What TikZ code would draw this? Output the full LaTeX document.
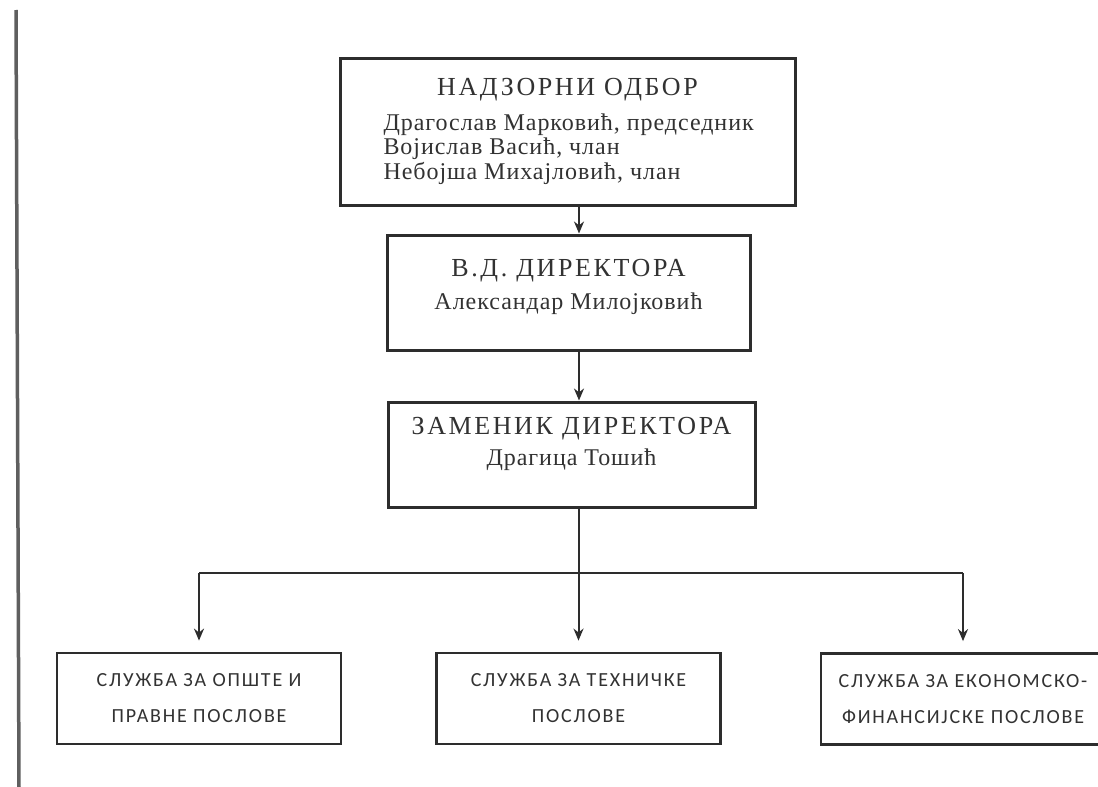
\documentclass[tikz,border=0pt]{standalone}
\usepackage{fontspec}
\setmainfont{Liberation Serif}
\setsansfont{Carlito}
\usepackage{tikz}
\usetikzlibrary{arrows.meta,positioning}
\definecolor{boxgray}{RGB}{45,45,45}
\definecolor{txtgray}{RGB}{50,50,50}
\definecolor{margray}{RGB}{95,95,95}
\newcommand{\headfont}{\fontsize{26}{30}\selectfont\addfontfeature{LetterSpace=10}}
\newcommand{\namefont}{\fontsize{24}{24.5}\selectfont\addfontfeature{LetterSpace=4}}
\newcommand{\servicefont}{\sffamily\fontsize{20}{36}\selectfont\addfontfeature{LetterSpace=9}}
\tikzstyle{arrow} = [line width=2pt,-{Stealth[length=12pt,width=10pt]},color=boxgray]
\tikzstyle{busline} = [line width=2pt,color=boxgray]
\tikzstyle{upperbox} = [rectangle, draw=boxgray, line width=3pt, text=txtgray, align=center, font=\namefont]
\tikzstyle{servicebox} = [rectangle, draw=boxgray, line width=2.8pt, minimum width=284pt, minimum height=91pt, text=txtgray, align=center, font=\servicefont]

\begin{document}
\begin{tikzpicture}[x=1pt,y=-1pt]
\clip (0,0) rectangle (1098,787);
\fill[white] (0,0) rectangle (1098,787);

% margin rule
\draw[margray, line width=3.5pt] (16,10) -- (19,787);

% Supervisory board
\node[upperbox, minimum width=455pt, minimum height=147pt] (nadzor) at (567.5,131.5) {
{\headfont НАДЗОРНИ ОДБОР}\\[10pt]
\makebox[368pt][l]{Драгослав Марковић, председник}\\
\makebox[368pt][l]{Војислав Васић, члан}\\
\makebox[368pt][l]{Небојша Михајловић, члан}
};

% Acting director
\node[upperbox, minimum width=363pt, minimum height=115pt, text depth=17pt] (vd) at (568.5,292.5) {
{\headfont В.Д. ДИРЕКТОРА}\\[8.5pt]
Александар Милојковић
};

% Deputy director
\node[upperbox, minimum width=367pt, minimum height=105pt, text depth=27pt] (zam) at (571.5,454.5) {
{\headfont ЗАМЕНИК ДИРЕКТОРА}\\[6.5pt]
Драгица Тошић
};

% Services
\node[servicebox] (opste) at (199,698.5) {СЛУЖБА ЗА ОПШТЕ И\\ПРАВНЕ ПОСЛОВЕ};
\node[servicebox] (tehn) at (578.5,698.5) {СЛУЖБА ЗА ТЕХНИЧКЕ\\ПОСЛОВЕ};
\node[servicebox] (ekon) at (963,699) {СЛУЖБА ЗА ЕКОНОМСКО-\\ФИНАНСИЈСКЕ ПОСЛОВЕ};

\coordinate (spine) at (579,0);
\coordinate (bus) at (579,573);

\draw[arrow] (nadzor.south -| spine) -- (vd.north -| spine);
\draw[arrow] (vd.south -| spine) -- (zam.north -| spine);
\draw[busline] (zam.south -| spine) -- (bus);
\draw[busline] (opste.north |- bus) -- (ekon.north |- bus);
\foreach \s in {opste,tehn,ekon}
  \draw[arrow, shorten >=11pt] (\s.north |- bus) -- (\s.north);
\end{tikzpicture}
\end{document}
